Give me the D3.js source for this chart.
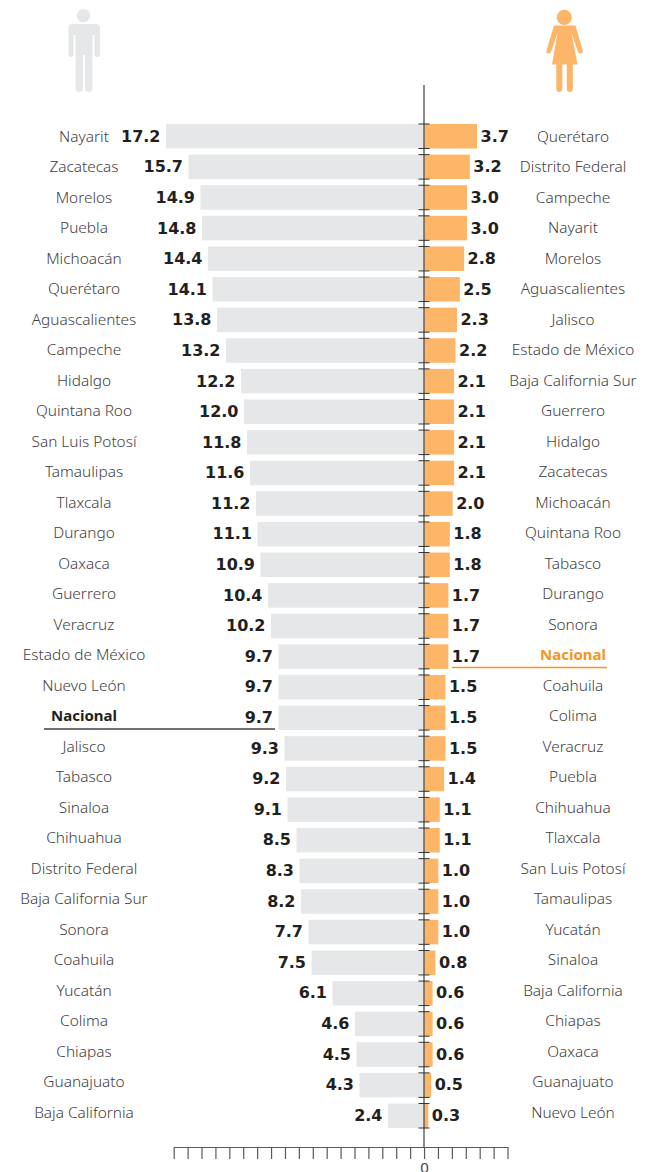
<!DOCTYPE html>
<html><head><meta charset="utf-8">
<script src="https://cdn.jsdelivr.net/npm/d3@7"></script>
<style>html,body{margin:0;padding:0;background:#fff}svg{display:block}</style>
</head><body><div id="c"></div>
<script>
const menStates = ["Nayarit","Zacatecas","Morelos","Puebla","Michoacán","Querétaro","Aguascalientes","Campeche","Hidalgo","Quintana Roo","San Luis Potosí","Tamaulipas","Tlaxcala","Durango","Oaxaca","Guerrero","Veracruz","Estado de México","Nuevo León","Nacional","Jalisco","Tabasco","Sinaloa","Chihuahua","Distrito Federal","Baja California Sur","Sonora","Coahuila","Yucatán","Colima","Chiapas","Guanajuato","Baja California"];
const menValues = [17.2,15.7,14.9,14.8,14.4,14.1,13.8,13.2,12.2,12.0,11.8,11.6,11.2,11.1,10.9,10.4,10.2,9.7,9.7,9.7,9.3,9.2,9.1,8.5,8.3,8.2,7.7,7.5,6.1,4.6,4.5,4.3,2.4];
const womenStates = ["Querétaro","Distrito Federal","Campeche","Nayarit","Morelos","Aguascalientes","Jalisco","Estado de México","Baja California Sur","Guerrero","Hidalgo","Zacatecas","Michoacán","Quintana Roo","Tabasco","Durango","Sonora","Nacional","Coahuila","Colima","Veracruz","Puebla","Chihuahua","Tlaxcala","San Luis Potosí","Tamaulipas","Yucatán","Sinaloa","Baja California","Chiapas","Oaxaca","Guanajuato","Nuevo León"];
const womenValues = [3.7,3.2,3.0,3.0,2.8,2.5,2.3,2.2,2.1,2.1,2.1,2.1,2.0,1.8,1.8,1.7,1.7,1.7,1.5,1.5,1.5,1.4,1.1,1.1,1.0,1.0,1.0,0.8,0.6,0.6,0.6,0.5,0.3];
const axisTicks = d3.range(-18,7);
const axisLabels = [0];

const W=647,H=1172;
const grey="#e6e7e8",orange="#fdb567",orangeDark="#f7941d",ink="#231f20",nameInk="#414042",axisInk="#58595b";
const nameFont="'Noto Sans','Open Sans',sans-serif", valFont="'DejaVu Sans',sans-serif";
const svg=d3.select("#c").append("svg").attr("width",W).attr("height",H);

const x0=424;
const xL=d3.scaleLinear().domain([0,17.2]).range([x0,166]);
const xR=d3.scaleLinear().domain([0,3.7]).range([x0,477]);
const rows=d3.range(33);
const y=d3.scalePoint().domain(rows).range([124,1103.5]);
const barH=24.5;
const yName=d3.scalePoint().domain(rows).range([136.2,1112.2]);
const yVal=d3.scalePoint().domain(rows).range([136,1115]);

// bars
svg.append("g").selectAll("rect").data(menValues).join("rect")
  .attr("x",d=>xL(d)).attr("y",(d,i)=>y(i)).attr("width",d=>x0-xL(d)).attr("height",barH).attr("fill",grey);
svg.append("g").selectAll("rect").data(womenValues).join("rect")
  .attr("x",x0).attr("y",(d,i)=>y(i)).attr("width",d=>xR(d)-x0).attr("height",barH).attr("fill",orange);

// central axis with bar ticks
const ax=svg.append("g").attr("stroke",axisInk).attr("fill","none");
ax.append("line").attr("x1",x0).attr("x2",x0).attr("y1",85).attr("y2",1147).attr("stroke-width",1.4);
ax.selectAll("line.t").data(rows.flatMap(i=>[y(i),y(i)+barH])).join("line").attr("class","t")
  .attr("x1",x0-5.5).attr("x2",x0+5.5).attr("y1",d=>d).attr("y2",d=>d).attr("stroke","#333").attr("stroke-width",1);

// bottom axis
const xAxis=d3.scaleLinear().domain([-18,6]).range([173.7,507.5]);
const gx=svg.append("g").attr("transform","translate(0,1147)")
  .call(d3.axisBottom(xAxis).tickValues(axisTicks).tickSize(12).tickSizeOuter(0)
    .tickFormat(d=>axisLabels.includes(d)?String(d):""));
gx.selectAll("line,path").attr("stroke",axisInk).attr("stroke-width",1.2);
gx.selectAll("text").attr("font-family",nameFont).attr("font-size",15).attr("fill",nameInk).attr("dy","0.72em").attr("y",15);

// names
function names(list,cx,natFill){
  svg.append("g").selectAll("text").data(list).join("text")
   .attr("x",cx).attr("y",(d,i)=>yName(i)).attr("dy","0.36em").attr("text-anchor","middle")
   .attr("font-family",nameFont).attr("font-size",d=>d==="Nacional"?15:15.4)
   .attr("font-weight",d=>d==="Nacional"?700:300)
   .attr("fill",d=>d==="Nacional"?natFill:nameInk).text(d=>d);
}
names(menStates,84,ink);
names(womenStates,573,orangeDark);

// values
svg.append("g").selectAll("text").data(menValues).join("text")
 .attr("x",d=>xL(d)-5.5).attr("y",(d,i)=>yVal(i)).attr("dy","0.36em").attr("text-anchor","end")
 .attr("font-family",valFont).attr("font-weight",700).attr("font-size",16).attr("fill",ink).text(d=>d.toFixed(1));
svg.append("g").selectAll("text").data(womenValues).join("text")
 .attr("x",d=>xR(d)+3.5).attr("y",(d,i)=>yVal(i)).attr("dy","0.36em")
 .attr("font-family",valFont).attr("font-weight",700).attr("font-size",16).attr("fill",ink).text(d=>d.toFixed(1));

// national rules
svg.append("line").attr("x1",44).attr("x2",275).attr("y1",729).attr("y2",729).attr("stroke","#414042").attr("stroke-width",1.6);
svg.append("line").attr("x1",452).attr("x2",607).attr("y1",667.5).attr("y2",667.5).attr("stroke",orangeDark).attr("stroke-width",1.6);

// icons
const man=svg.append("g").attr("fill",grey);
man.append("circle").attr("cx",83.5).attr("cy",15.7).attr("r",6.8);
man.append("path").attr("d","M72 24H96Q100 24 100 28V54.5Q100 57 97.5 57H97Q94.5 57 94.5 54.5V35H92.5V88.5Q92.5 92 88.5 92Q85 92 85 88.5V55H83V88.5Q83 92 79 92Q75.5 92 75.5 88.5V35H73.5V54.5Q73.5 57 71 57Q68.5 57 68.5 54.5V28Q68 24 72 24Z");
const woman=svg.append("g").attr("fill",orange);
woman.append("circle").attr("cx",564.3).attr("cy",17.3).attr("r",7.6);
woman.append("path").attr("d","M554 25.5H575.5L582.7 50.5Q583 53 580.8 53.5Q578.8 54 578 52L571.5 33L577.5 64.5H572.8V88.5Q572.8 92 569.8 92Q566.8 92 566.8 88.5V64.5H562.3V88.5Q562.3 92 559.3 92Q556.3 92 556.3 88.5V64.5H552L557.5 33L551 52Q550 54 548 53.5Q546 53 546.5 50.5Z");
</script></body></html>
